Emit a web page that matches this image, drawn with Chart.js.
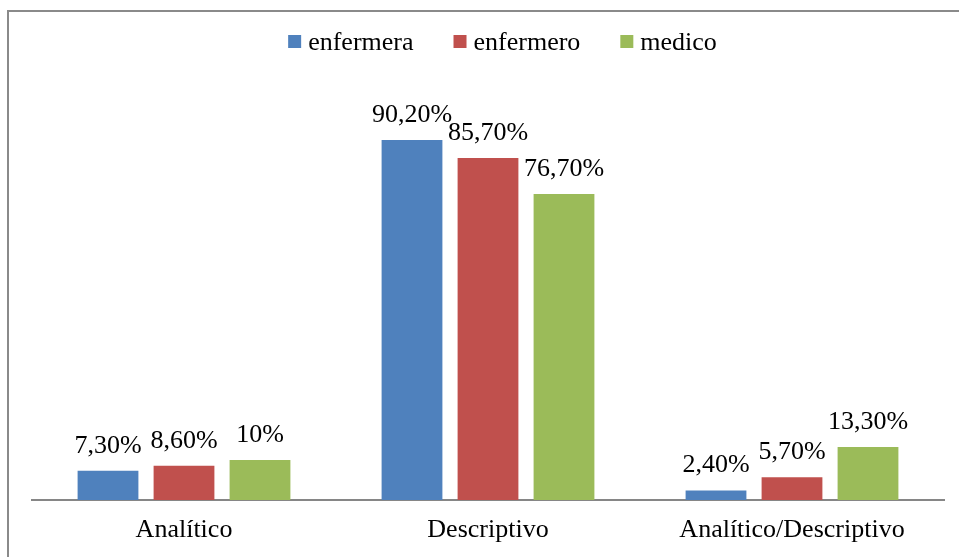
<!DOCTYPE html>
<html>
<head>
<meta charset="utf-8">
<script src="https://cdn.jsdelivr.net/npm/chart.js@4/dist/chart.umd.min.js"></script>
<style>
  html, body { margin: 0; padding: 0; background: #fff; }
  #wrap { width: 959px; height: 557px; }
</style>
</head>
<body>
<div id="wrap"><canvas id="enfoqueChart" width="959" height="557"></canvas></div>
<script>
// Categories and percentages per group
const categories = ['Analítico', 'Descriptivo', 'Analítico/Descriptivo'];
const enfermera = [7.3, 90.2, 2.4];
const enfermero = [8.6, 85.7, 5.7];
const medico = [10, 76.7, 13.3];

const serif = '"Liberation Serif", "Times New Roman", serif';
const textSize = 26;

// "90,20%" style labels, whole numbers without decimals
function pctLabel(v) {
  if (Number.isInteger(v)) return v + '%';
  return v.toFixed(2).replace('.', ',') + '%';
}

// outer frame of the chart
const framePlugin = {
  id: 'frame',
  beforeDraw(chart) {
    const ctx = chart.ctx;
    ctx.save();
    ctx.fillStyle = '#fff';
    ctx.fillRect(0, 0, chart.width, chart.height);
    ctx.strokeStyle = '#8a8a8a';
    ctx.lineWidth = 2;
    ctx.beginPath();
    ctx.moveTo(8, chart.height + 5);
    ctx.lineTo(8, 11);
    ctx.lineTo(chart.width + 5, 11);
    ctx.stroke();
    ctx.restore();
  }
};

// legend row: square marker, then the series name
const legendPlugin = {
  id: 'topLegend',
  afterDraw(chart) {
    const ctx = chart.ctx;
    ctx.save();
    ctx.font = textSize + 'px ' + serif;
    ctx.textBaseline = 'alphabetic';
    const box = 13, gapText = 7, gapItem = 40;
    const items = chart.data.datasets.map(ds => ({
      label: ds.label, color: ds.backgroundColor, w: ctx.measureText(ds.label).width
    }));
    let total = 0;
    items.forEach((it, i) => { total += box + gapText + it.w + (i ? gapItem : 0); });
    let x = 502.5 - total / 2;
    items.forEach(it => {
      ctx.fillStyle = it.color;
      ctx.fillRect(x, 35, box, box);
      ctx.fillStyle = '#000';
      ctx.fillText(it.label, x + box + gapText, 50);
      x += box + gapText + it.w + gapItem;
    });
    ctx.restore();
  }
};

// value labels above every bar
const valuePlugin = {
  id: 'barValues',
  afterDatasetsDraw(chart) {
    const ctx = chart.ctx;
    ctx.save();
    ctx.font = textSize + 'px ' + serif;
    ctx.fillStyle = '#000';
    ctx.textAlign = 'center';
    ctx.textBaseline = 'alphabetic';
    chart.data.datasets.forEach((ds, i) => {
      chart.getDatasetMeta(i).data.forEach((bar, j) => {
        ctx.fillText(pctLabel(ds.data[j]), bar.x, bar.y - 18);
      });
    });
    ctx.restore();
  }
};

const ctx = document.getElementById('enfoqueChart').getContext('2d');
const enfoqueChart = new Chart(ctx, {
  type: 'bar',
  data: {
    labels: categories,
    datasets: [
      { label: 'enfermera', data: enfermera, backgroundColor: '#4F81BD' },
      { label: 'enfermero', data: enfermero, backgroundColor: '#C0504D' },
      { label: 'medico', data: medico, backgroundColor: '#9BBB59' }
    ]
  },
  options: {
    responsive: false,
    animation: false,
    devicePixelRatio: 1,
    categoryPercentage: 0.75,
    barPercentage: 0.8,
    layout: { padding: { left: 32, right: 15, top: 101, bottom: 0 } },
    plugins: {
      legend: { display: false },
      tooltip: { enabled: false }
    },
    scales: {
      x: {
        grid: { display: false, drawTicks: false },
        border: { display: true, color: '#868686', width: 2 },
        ticks: { color: '#000', padding: 15, font: { family: serif, size: textSize } },
        afterFit(scale) { scale.height = 57; }
      },
      y: {
        display: false,
        min: 0,
        max: 100
      }
    }
  },
  plugins: [framePlugin, legendPlugin, valuePlugin]
});
</script>
</body>
</html>
